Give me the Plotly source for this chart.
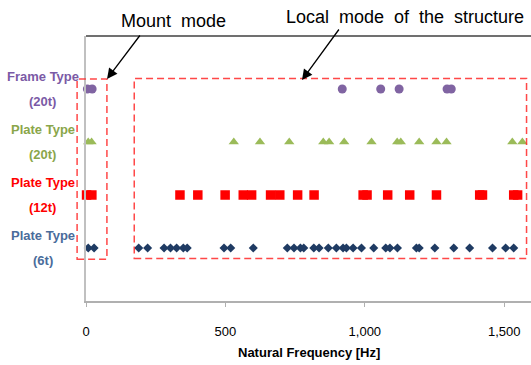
import plotly.graph_objects as go

# Natural frequencies [Hz] per structure type
frame_20t = [5, 22, 919, 1057, 1123, 1295, 1310]
plate_20t = [8, 20, 530, 624, 729, 851, 872, 926, 1024, 1116, 1129, 1195, 1257, 1293, 1529, 1565]
plate_12t = [2, 21, 337, 401, 499, 564, 594, 662, 695, 759, 818, 994, 1008, 1082, 1161, 1257, 1412, 1422, 1534, 1548]
plate_6t = [8, 29, 189, 221, 280, 303, 325, 349, 363, 495, 519, 600, 722, 746, 769, 781, 817, 836,
            869, 898, 922, 934, 958, 988, 1032, 1075, 1090, 1117, 1185, 1195, 1251, 1319, 1376,
            1458, 1505, 1534]

row_labels = [("Frame Type", "(20t)"), ("Plate Type", "(20t)"), ("Plate Type", "(12t)"), ("Plate Type", "(6t)")]
row_levels = [4, 3, 2, 1]
label_colors = ["#7B5AA6", "#8AA64A", "#FF0000", "#4A6C9B"]

x_ticks = [0, 500, 1000, 1500]
x_range = [0, 1596]
y_range = [0, 5]

FONT = "Liberation Sans"

series = [
    (frame_20t, 4, "circle", "#8064A2", 9),
    (plate_20t, 3, "triangle-up", "#9BBB59", 9),
    (plate_12t, 2, "square", "#FF0000", 9.5),
    (plate_6t, 1, "diamond", "#1F3B63", 7),
]

fig = go.Figure()
for xs, lvl, sym, col, sz in series:
    fig.add_trace(go.Scatter(
        x=xs, y=[lvl] * len(xs), mode="markers",
        marker=dict(symbol=sym, color=col, size=sz, line=dict(width=0)),
        showlegend=False, cliponaxis=False,
    ))

dash_red = dict(color="rgba(255,40,40,0.85)", width=1.5, dash="7px,4px")
# Mount mode box (extends slightly left of the axis -> paper x)
fig.add_shape(type="rect", xref="paper", yref="y", x0=-0.02, x1=0.047, y0=0.79, y1=4.19,
              line=dash_red, fillcolor="rgba(0,0,0,0)", layer="above")
# Local mode box
fig.add_shape(type="rect", xref="x", yref="y", x0=173, x1=1580, y0=0.8, y1=4.2,
              line=dash_red, fillcolor="rgba(0,0,0,0)", layer="above")
# top border of plot area
fig.add_shape(type="line", xref="paper", yref="paper", x0=0, x1=1, y0=1, y1=1,
              line=dict(color="#404040", width=1.5))

# row labels (two lines each)
for (l1, l2), lvl, col in zip(row_labels, row_levels, label_colors):
    for txt, dy in ((l1, 0.23), (l2, -0.23)):
        fig.add_annotation(x=-0.097, xref="paper", y=lvl + dy, yref="y", text=f"<b>{txt}</b>",
                           showarrow=False, xanchor="center", yanchor="middle",
                           font=dict(family=FONT, size=13, color=col))

# callout arrows
fig.add_annotation(x=(302 - 86) / 445, xref="paper", y=(301 - 80) / 265, yref="paper",
                   ax=(340 - 302), ay=(28 - 80), text="", showarrow=True, arrowhead=2,
                   arrowsize=1.6, arrowwidth=1.3, arrowcolor="black")
fig.add_annotation(x=(107 - 86) / 445, xref="paper", y=(301 - 79) / 265, yref="paper",
                   ax=(141 - 107), ay=(34 - 79), text="", showarrow=True, arrowhead=2,
                   arrowsize=1.6, arrowwidth=1.3, arrowcolor="black")
# callout texts
fig.add_annotation(x=(173 - 86) / 445, xref="paper", y=(301 - 21) / 265, yref="paper",
                   text="Mount  mode", showarrow=False, xanchor="center", yanchor="middle",
                   font=dict(family=FONT, size=18, color="black"))
fig.add_annotation(x=(405 - 86) / 445, xref="paper", y=(301 - 17) / 265, yref="paper",
                   text="Local  mode  of  the  structure", showarrow=False, xanchor="center",
                   yanchor="middle", font=dict(family=FONT, size=18, color="black"))
# x-axis title
fig.add_annotation(x=0.5, xref="paper", y=(301 - 352) / 265, yref="paper",
                   text="<b>Natural Frequency [Hz]</b>", showarrow=False, xanchor="center",
                   yanchor="middle", font=dict(family=FONT, size=13, color="black"))

fig.update_layout(
    width=531, height=365,
    margin=dict(l=86, r=0, t=36, b=64),
    paper_bgcolor="white", plot_bgcolor="white",
    font=dict(family=FONT),
    xaxis=dict(range=x_range, tickvals=x_ticks, tickformat=",", showgrid=False, zeroline=False,
               showline=True, linecolor="#B0B0B0", linewidth=1.5, ticks="outside", ticklen=4,
               tickcolor="#B0B0B0", ticklabelstandoff=14,
               tickfont=dict(family=FONT, size=13, color="black")),
    yaxis=dict(range=y_range, showgrid=False, zeroline=False, showticklabels=False,
               showline=True, linecolor="#C0C0C0", linewidth=2, ticks=""),
)

fig.write_html("out.html")
